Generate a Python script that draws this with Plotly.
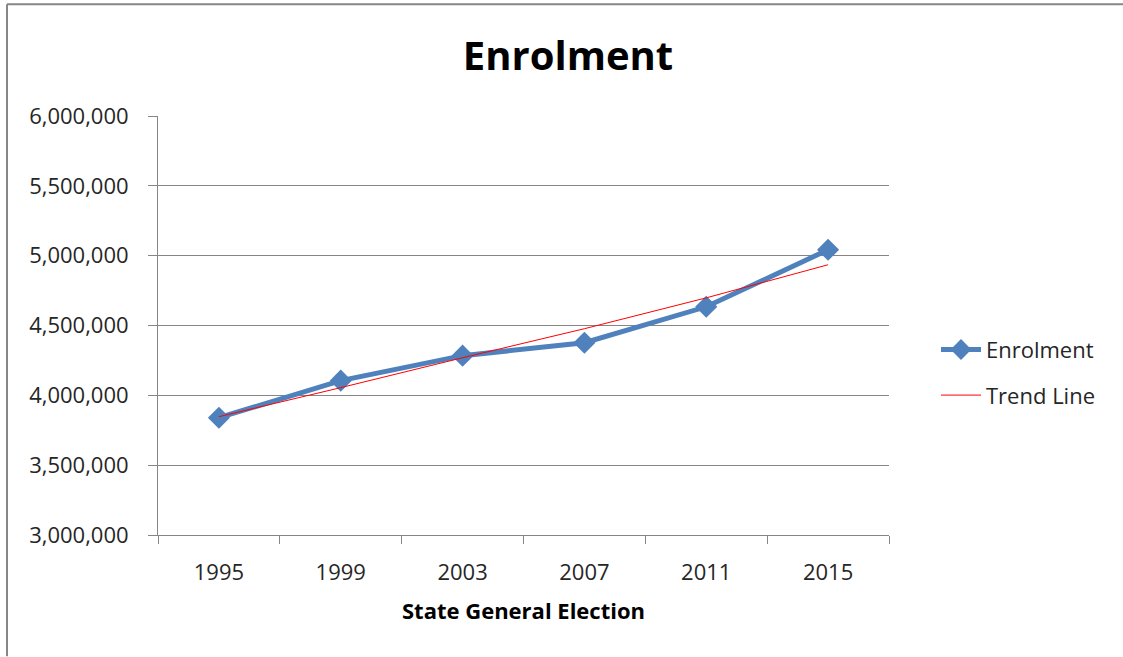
import plotly.graph_objects as go

years = ["1995", "1999", "2003", "2007", "2011", "2015"]
enrolment = [3840000, 4105000, 4284000, 4377000, 4634000, 5042000]
trend = [3847000, 4055000, 4269000, 4477000, 4698000, 4935000]
y_ticks = [3000000, 3500000, 4000000, 4500000, 5000000, 5500000, 6000000]
y_tick_labels = ["3,000,000", "3,500,000", "4,000,000", "4,500,000",
                 "5,000,000", "5,500,000", "6,000,000"]

W, H = 1123, 657
L, R, T, B = 158, 889, 116, 535.5

fig = go.Figure()
fig.add_trace(go.Scatter(
    x=years, y=enrolment, name="Enrolment", mode="lines+markers",
    line=dict(color="#4F81BD", width=5),
    marker=dict(symbol="diamond", size=17, color="#4F81BD"),
    legendgroup="a",
))
fig.add_trace(go.Scatter(
    x=years, y=trend, name="Trend Line", mode="lines",
    line=dict(color="#FF0000", width=1),
    legendgroup="b",
))

pw, ph = R - L, B - T
def px_x(x):
    return (x - L) / pw
def px_y(y):
    return (B - y) / ph

border = dict(color="#878787", width=2)

fig.update_layout(
    width=W, height=H,
    margin=dict(l=L, r=W - R, t=T, b=H - B, pad=0),
    paper_bgcolor="white", plot_bgcolor="white",
    font=dict(family="Open Sans, DejaVu Sans, sans-serif", color="#262626", size=22),
    title=dict(text="<b>Enrolment</b>", x=px_x(568), xref="paper", xanchor="center",
               y=1 - 56 / H, yref="container", yanchor="middle",
               font=dict(size=40, color="#000000")),
    xaxis=dict(
        type="category", range=[-0.5, 5.5],
        showgrid=False, showline=True, linecolor="#868686", linewidth=1,
        ticks="outside", tickson="boundaries", ticklen=8, tickcolor="#868686",
        tickfont=dict(size=22, color="#262626"), ticklabelstandoff=18,
        title=dict(text="<b>State General Election</b>", standoff=18,
                   font=dict(size=22, color="#000000")),
        fixedrange=True,
    ),
    yaxis=dict(
        range=[3000000, 6000000], tickvals=y_ticks, ticktext=y_tick_labels,
        showgrid=True, gridcolor="#868686", gridwidth=1,
        showline=True, linecolor="#868686", linewidth=1,
        ticks="outside", ticklen=9, tickcolor="#868686",
        tickfont=dict(size=22, color="#262626"), ticklabelstandoff=15,
        zeroline=False, fixedrange=True,
    ),
    legend=dict(
        x=px_x(936), xanchor="left", y=px_y(373), yanchor="middle",
        font=dict(size=22, color="#262626"), tracegroupgap=14,
        bgcolor="rgba(0,0,0,0)", itemwidth=40,
    ),
    showlegend=True,
    shapes=[
        dict(type="line", xref="paper", yref="paper",
             x0=px_x(7), x1=px_x(1123), y0=px_y(4), y1=px_y(4), line=border),
        dict(type="line", xref="paper", yref="paper",
             x0=px_x(7), x1=px_x(7), y0=px_y(4), y1=px_y(657), line=border),
    ],
)

fig.write_html(
    "out.html",
    config={"displayModeBar": False},
    post_script="document.body.style.margin='0';document.body.style.overflow='hidden';",
)
